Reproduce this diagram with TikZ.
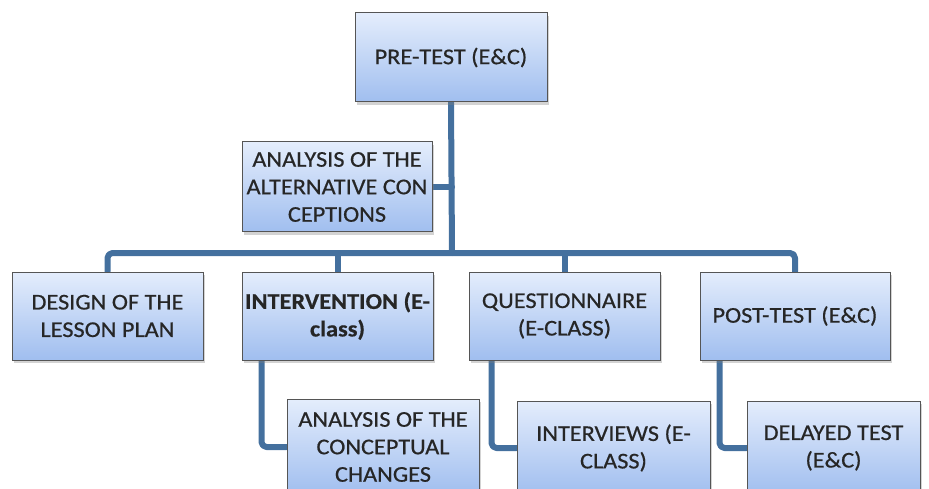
\documentclass[tikz,border=0pt]{standalone}
\usepackage{fontspec}
\setmainfont{Carlito}
\newfontfamily\boxfont[FakeBold=0.6,FakeStretch=1.08]{Carlito}
\usetikzlibrary{shadows,backgrounds}
\definecolor{conncol}{HTML}{44709E}
\definecolor{boxtop}{HTML}{E4EDFC}
\definecolor{boxbot}{HTML}{A0BEEF}
\definecolor{boxline}{HTML}{555555}
\definecolor{txtcol}{HTML}{262626}
\begin{document}
\begin{tikzpicture}[x=1pt,y=-1pt,
  boxnode/.style={draw=boxline, line width=1pt, top color=boxtop, bottom color=boxbot,
    align=center, text=txtcol, inner sep=0pt,
    font=\boxfont\fontsize{22.5}{27.5}\selectfont,
    drop shadow={opacity=0.35, shadow xshift=2pt, shadow yshift=-3pt}},
  conn/.style={draw=conncol, line width=6pt, line cap=round, line join=round}]
\useasboundingbox (0,0) rectangle (929,489);
\clip (0,0) rectangle (929,489);
\coordinate (bar) at (452,253);
\node[boxnode, minimum width=192pt, minimum height=89pt] (pre) at (451,57.5) {PRE-TEST (E\&C)};
\node[boxnode, minimum width=190pt, minimum height=90pt] (alt) at (337,187) {ANALYSIS OF THE\\ALTERNATIVE CON\\CEPTIONS};
\node[boxnode, minimum width=191pt, minimum height=88pt] (design) at (107.5,316) {DESIGN OF THE\\LESSON PLAN};
\node[boxnode, minimum width=191pt, minimum height=88pt, font=\boxfont\fontsize{22.5}{27.5}\selectfont\bfseries] (interv) at (337.5,316) {INTERVENTION (E-\\class)};
\node[boxnode, minimum width=191pt, minimum height=88pt] (quest) at (564.5,316) {QUESTIONNAIRE\\(E-CLASS)};
\node[boxnode, minimum width=190pt, minimum height=88pt] (post) at (795,316) {POST-TEST (E\&C)};
\node[boxnode, minimum width=192pt, minimum height=96pt] (acc) at (383,447) {ANALYSIS OF THE\\CONCEPTUAL\\CHANGES};
\node[boxnode, minimum width=193pt, minimum height=94pt] (iv) at (613.5,448) {INTERVIEWS (E-\\CLASS)};
\node[boxnode, minimum width=173pt, minimum height=94pt] (del) at (833.5,448) {DELAYED TEST\\(E\&C)};
\begin{pgfonlayer}{background}
\draw[conn, rounded corners=5pt] (design.north) |- (bar) -| (post.north);
\draw[conn] (pre.south) -- (bar);
\draw[conn] (interv.north) -- (interv.north |- bar);
\draw[conn] (quest.north) -- (quest.north |- bar);
\draw[conn] (alt.east) -- (alt.east -| bar);
\draw[conn, rounded corners=5pt] (interv.south west) ++(20,0) |- (acc.west);
\draw[conn, rounded corners=5pt] (quest.south west) ++(23,0) |- (iv.west);
\draw[conn, rounded corners=5pt] (post.south west) ++(20,0) |- (del.west);
\end{pgfonlayer}
\end{tikzpicture}
\end{document}
